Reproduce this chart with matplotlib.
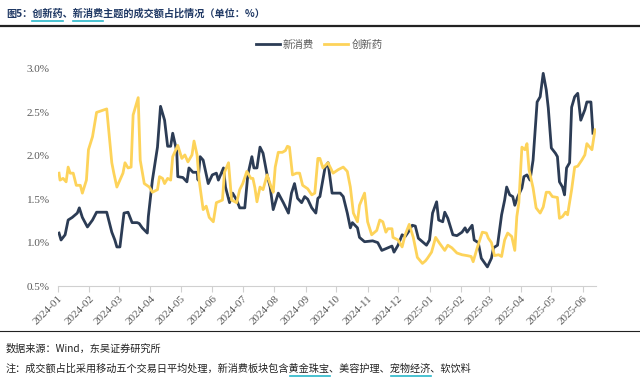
import numpy as np
import pandas as pd
import matplotlib
matplotlib.use("Agg")
import matplotlib.pyplot as plt
import matplotlib.dates as mdates
from matplotlib.lines import Line2D

plt.rcParams['font.family'] = ['Noto Sans CJK SC', 'DejaVu Sans']

# 新消费 (navy)
xfs_dates = ["2024-01-02", "2024-01-04", "2024-01-08", "2024-01-11", "2024-01-15", "2024-01-20",
             "2024-01-22", "2024-01-25", "2024-01-30", "2024-02-04", "2024-02-08", "2024-02-18",
             "2024-02-23", "2024-02-26", "2024-02-28", "2024-03-02", "2024-03-06", "2024-03-10",
             "2024-03-14", "2024-03-19", "2024-03-21", "2024-03-24", "2024-03-29", "2024-03-30",
             "2024-04-03", "2024-04-08", "2024-04-11", "2024-04-15", "2024-04-18", "2024-04-21",
             "2024-04-23", "2024-04-27", "2024-04-28", "2024-05-03", "2024-05-07", "2024-05-09",
             "2024-05-13", "2024-05-17", "2024-05-18", "2024-05-20", "2024-05-23", "2024-05-28",
             "2024-06-01", "2024-06-05", "2024-06-07", "2024-06-12", "2024-06-14", "2024-06-18",
             "2024-06-21", "2024-06-25", "2024-06-28", "2024-07-03", "2024-07-06", "2024-07-10",
             "2024-07-12", "2024-07-15", "2024-07-18", "2024-07-21", "2024-07-25", "2024-07-28",
             "2024-07-31", "2024-08-05", "2024-08-10", "2024-08-15", "2024-08-18", "2024-08-21",
             "2024-08-24", "2024-08-28", "2024-08-31", "2024-09-03", "2024-09-07", "2024-09-11",
             "2024-09-13", "2024-09-15", "2024-09-20", "2024-09-23", "2024-09-27", "2024-10-05",
             "2024-10-08", "2024-10-12", "2024-10-15", "2024-10-17", "2024-10-22", "2024-10-24",
             "2024-10-29", "2024-11-06", "2024-11-11", "2024-11-15", "2024-11-21", "2024-11-25",
             "2024-11-27", "2024-12-01", "2024-12-05", "2024-12-08", "2024-12-11", "2024-12-15",
             "2024-12-18", "2024-12-21", "2024-12-25", "2024-12-29", "2025-01-01", "2025-01-04",
             "2025-01-08", "2025-01-10", "2025-01-14", "2025-01-16", "2025-01-19", "2025-01-24",
             "2025-01-28", "2025-02-02", "2025-02-05", "2025-02-07", "2025-02-12", "2025-02-14",
             "2025-02-18", "2025-02-21", "2025-02-27", "2025-03-03", "2025-03-05", "2025-03-09",
             "2025-03-13", "2025-03-16", "2025-03-18", "2025-03-21", "2025-03-24", "2025-03-26",
             "2025-03-29", "2025-04-02", "2025-04-04", "2025-04-07", "2025-04-10", "2025-04-13",
             "2025-04-17", "2025-04-20", "2025-04-23", "2025-04-26", "2025-04-28", "2025-05-01",
             "2025-05-05", "2025-05-07", "2025-05-09", "2025-05-12", "2025-05-14", "2025-05-16",
             "2025-05-19", "2025-05-21", "2025-05-24", "2025-05-27", "2025-05-30", "2025-06-03",
             "2025-06-05", "2025-06-09", "2025-06-11"]
xfs_vals = [1.11, 1.03, 1.09, 1.26, 1.29, 1.34, 1.40, 1.29, 1.18, 1.26, 1.35, 1.35,
            1.12, 1.03, 0.95, 0.95, 1.34, 1.35, 1.23, 1.23, 1.22, 1.17, 1.11, 1.30,
            1.72, 2.10, 2.57, 2.41, 2.11, 2.11, 2.26, 2.05, 1.76, 1.75, 1.70, 1.86,
            1.81, 1.81, 1.72, 1.99, 1.95, 1.68, 1.78, 1.80, 1.72, 1.86, 1.64, 1.46,
            1.57, 1.49, 1.40, 1.40, 1.78, 1.99, 1.86, 1.86, 2.10, 2.03, 1.78, 1.64,
            1.38, 1.57, 1.46, 1.34, 1.57, 1.68, 1.51, 1.46, 1.53, 1.50, 1.40, 1.34,
            1.51, 1.53, 1.86, 1.92, 1.57, 1.57, 1.53, 1.34, 1.17, 1.23, 1.17, 1.06,
            1.01, 1.02, 1.00, 0.91, 0.94, 0.96, 0.89, 0.97, 1.09, 1.07, 1.12, 1.20,
            1.19, 1.05, 1.01, 0.97, 1.03, 1.34, 1.47, 1.26, 1.24, 1.35, 1.28, 1.09,
            1.08, 1.12, 1.17, 1.12, 1.20, 1.03, 1.00, 0.82, 0.72, 0.82, 0.94, 0.97,
            1.32, 1.49, 1.64, 1.55, 1.53, 1.43, 1.53, 1.63, 1.76, 1.78, 1.72, 1.95,
            2.62, 2.68, 2.95, 2.76, 2.55, 2.09, 2.03, 1.99, 1.70, 1.64, 1.55, 1.86,
            1.92, 2.56, 2.68, 2.72, 2.41, 2.53, 2.62, 2.62, 2.26]

# 创新药 (yellow)
cxy_dates = ["2024-01-02", "2024-01-03", "2024-01-06", "2024-01-09", "2024-01-11", "2024-01-13",
             "2024-01-16", "2024-01-19", "2024-01-23", "2024-01-25", "2024-01-29", "2024-01-31",
             "2024-02-04", "2024-02-08", "2024-02-18", "2024-02-23", "2024-02-25", "2024-02-28",
             "2024-03-02", "2024-03-05", "2024-03-07", "2024-03-10", "2024-03-13", "2024-03-15",
             "2024-03-20", "2024-03-22", "2024-03-26", "2024-03-31", "2024-04-03", "2024-04-08",
             "2024-04-10", "2024-04-13", "2024-04-15", "2024-04-18", "2024-04-21", "2024-04-23",
             "2024-04-28", "2024-05-02", "2024-05-05", "2024-05-08", "2024-05-12", "2024-05-14",
             "2024-05-17", "2024-05-19", "2024-05-23", "2024-05-26", "2024-05-29", "2024-06-02",
             "2024-06-05", "2024-06-11", "2024-06-13", "2024-06-17", "2024-06-20", "2024-06-25",
             "2024-06-28", "2024-07-01", "2024-07-05", "2024-07-09", "2024-07-11", "2024-07-13",
             "2024-07-15", "2024-07-18", "2024-07-21", "2024-07-25", "2024-07-29", "2024-07-31",
             "2024-08-02", "2024-08-05", "2024-08-09", "2024-08-12", "2024-08-14", "2024-08-16",
             "2024-08-19", "2024-08-23", "2024-08-26", "2024-08-29", "2024-09-03", "2024-09-07",
             "2024-09-10", "2024-09-13", "2024-09-15", "2024-09-18", "2024-09-23", "2024-09-28",
             "2024-10-03", "2024-10-08", "2024-10-12", "2024-10-15", "2024-10-18", "2024-10-22",
             "2024-10-24", "2024-10-29", "2024-11-01", "2024-11-05", "2024-11-08", "2024-11-10",
             "2024-11-13", "2024-11-16", "2024-11-19", "2024-11-21", "2024-11-25", "2024-11-26",
             "2024-12-01", "2024-12-05", "2024-12-08", "2024-12-12", "2024-12-16", "2024-12-20",
             "2024-12-25", "2024-12-28", "2024-12-30", "2025-01-03", "2025-01-07", "2025-01-11",
             "2025-01-16", "2025-01-19", "2025-01-23", "2025-01-28", "2025-02-02", "2025-02-07",
             "2025-02-11", "2025-02-13", "2025-02-17", "2025-02-22", "2025-02-26", "2025-02-28",
             "2025-03-03", "2025-03-06", "2025-03-10", "2025-03-13", "2025-03-16", "2025-03-19",
             "2025-03-23", "2025-03-26", "2025-03-28", "2025-03-30", "2025-04-02", "2025-04-05",
             "2025-04-07", "2025-04-09", "2025-04-13", "2025-04-16", "2025-04-20", "2025-04-23",
             "2025-04-26", "2025-04-29", "2025-05-02", "2025-05-07", "2025-05-09", "2025-05-12",
             "2025-05-15", "2025-05-17", "2025-05-21", "2025-05-24", "2025-05-27", "2025-05-31",
             "2025-06-03", "2025-06-05", "2025-06-10", "2025-06-13"]
cxy_vals = [1.80, 1.72, 1.74, 1.70, 1.87, 1.80, 1.80, 1.66, 1.66, 1.57, 1.72, 2.07,
            2.22, 2.50, 2.54, 1.92, 1.80, 1.64, 1.72, 1.80, 1.92, 1.86, 1.87, 2.47,
            2.67, 1.95, 1.68, 1.64, 1.58, 1.61, 1.76, 1.74, 1.68, 1.74, 1.72, 1.99,
            2.12, 1.97, 2.01, 1.93, 2.01, 2.17, 2.01, 1.72, 1.38, 1.42, 1.29, 1.24,
            1.46, 1.49, 1.81, 1.92, 1.49, 1.46, 1.61, 1.68, 1.82, 1.74, 1.74, 1.63,
            1.47, 1.64, 1.61, 1.78, 1.64, 1.58, 1.87, 2.04, 2.04, 2.06, 2.11, 2.10,
            1.78, 1.80, 1.80, 1.66, 1.62, 1.55, 1.57, 1.97, 1.97, 1.86, 1.92, 1.80,
            1.84, 1.87, 1.82, 1.64, 1.34, 1.24, 1.43, 1.57, 1.24, 1.09, 1.12, 1.14,
            1.26, 1.24, 1.12, 1.16, 1.16, 1.06, 1.03, 0.95, 1.09, 1.21, 1.06, 0.83,
            0.76, 0.79, 0.82, 0.89, 1.06, 0.99, 0.91, 0.97, 0.94, 0.88, 0.86, 0.85,
            0.84, 0.78, 0.94, 1.12, 1.11, 1.05, 1.00, 0.85, 0.86, 0.84, 1.03, 1.11,
            1.07, 0.91, 1.30, 1.46, 2.10, 2.07, 2.14, 1.84, 1.63, 1.40, 1.34, 1.41,
            1.58, 1.58, 1.53, 1.52, 1.28, 1.30, 1.35, 1.32, 1.61, 1.87, 1.88, 1.95,
            2.01, 2.14, 2.07, 2.30]

month_ticks = pd.date_range("2024-01-01", "2025-06-01", freq="MS")
tick_labels = [d.strftime("%Y-%m") for d in month_ticks]

navy = '#2c3c55'
yellow = '#fdd35a'
grey = '#595959'

fig = plt.figure(figsize=(6.4, 3.83), dpi=100)
ax = fig.add_axes([58/640, 1-286/383, (596-58)/640, (286-69)/383])

ax.plot(pd.to_datetime(xfs_dates), xfs_vals, color=navy, lw=2.0, label='新消费', solid_joinstyle='round')
ax.plot(pd.to_datetime(cxy_dates), cxy_vals, color=yellow, lw=2.0, label='创新药', solid_joinstyle='round')

ax.set_ylim(0.5, 3.0)
ax.set_xlim(pd.Timestamp("2024-01-01"), pd.Timestamp("2025-06-14"))
ax.set_yticks([0.5, 1.0, 1.5, 2.0, 2.5, 3.0])
ax.set_yticklabels([f"{v:.1f}%" for v in [0.5, 1.0, 1.5, 2.0, 2.5, 3.0]],
                   fontfamily='Liberation Serif', fontsize=8, color=grey)
ax.set_xticks(month_ticks)
ax.set_xticklabels(tick_labels, rotation=45, ha='right', rotation_mode='anchor',
                   fontfamily='Liberation Serif', fontsize=8, color=grey)
ax.tick_params(axis='y', length=0, pad=6)
ax.tick_params(axis='x', length=4, color='#d0d0d0', pad=2)
for s in ['top', 'right', 'left']:
    ax.spines[s].set_visible(False)
ax.spines['bottom'].set_color('#d0d0d0')

fig.legend(loc='center', bbox_to_anchor=(319/640, 1-45/383), ncol=2, frameon=False,
           fontsize=7.5, handlelength=2.3, columnspacing=1.0, handletextpad=0.3,
           labelcolor=grey)

# title and footnotes
fig.add_artist(Line2D([0, 1], [1-26/383, 1-26/383], color='#222222', lw=1.6))
fig.add_artist(Line2D([0, 1], [1-331/383, 1-331/383], color='#222222', lw=0.8))

title_color = '#1f3864'
fs = 7.3
title = "图5：创新药、新消费主题的成交额占比情况（单位：%）"
src = "数据来源：Wind，东吴证券研究所"
note = "注：成交额占比采用移动五个交易日平均处理，新消费板块包含黄金珠宝、美容护理、宠物经济、软饮料"

fig.text(6/640, 1-14/383, title, fontsize=fs, color=title_color, fontweight='bold', va='center')
fig.text(6/640, 1-349/383, src, fontsize=fs, color='#222222', va='center')
fig.text(6/640, 1-369/383, note, fontsize=fs, color='#222222', va='center')

fig.canvas.draw()
renderer = fig.canvas.get_renderer()


def underline(full, part, ypix, bold=False):
    i = full.index(part)
    kw = dict(fontsize=fs, fontweight='bold' if bold else 'normal')
    t0 = fig.text(0, 0, full[:i], **kw)
    t1 = fig.text(0, 0, full[:i + len(part)], **kw)
    w0 = t0.get_window_extent(renderer).width if i > 0 else 0
    w1 = t1.get_window_extent(renderer).width
    t0.remove()
    t1.remove()
    x0 = 6 + w0
    x1 = 6 + w1
    fig.add_artist(Line2D([x0/640, x1/640], [1-ypix/383, 1-ypix/383], color='#2ab7c9', lw=1.2))


underline(title, "创新药", 21, bold=True)
underline(title, "新消费", 21, bold=True)
underline(note, "黄金珠宝", 376)
underline(note, "宠物经济", 376)

fig.savefig("out.png", dpi=100)
